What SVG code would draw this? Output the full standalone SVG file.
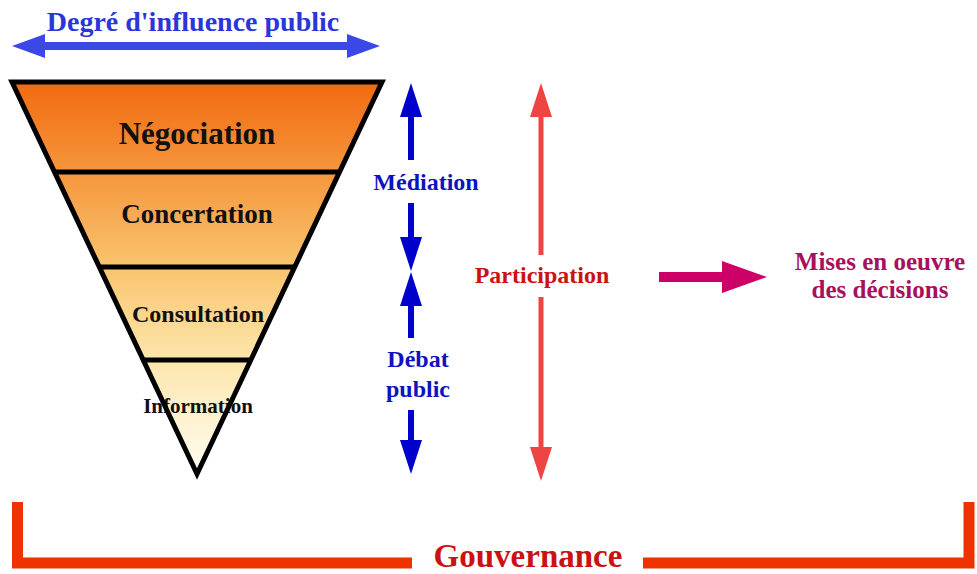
<svg xmlns="http://www.w3.org/2000/svg" width="977" height="574" viewBox="0 0 977 574">
<style>
  text { font-family: "Liberation Serif", "Times New Roman", serif; font-weight: bold; text-anchor: middle; }
  .lvl { fill: #111; }
  .blue { fill: #0e12c0; }
  .red { fill: #cc1111; }
  .mag { fill: #a8105c; }
  .band { stroke: none; }
  .edge { fill: none; stroke: #000; stroke-width: 5; stroke-linejoin: miter; }
  .bshaft { stroke: #0000cc; stroke-width: 6; fill: none; }
  .rshaft { stroke: #ee4444; stroke-width: 5; fill: none; }
  .bracket { fill: none; stroke: #ee3300; stroke-width: 11; stroke-linejoin: miter; }
</style>
<defs>
  <linearGradient id="funnel" gradientUnits="userSpaceOnUse" x1="0" y1="82" x2="0" y2="474">
    <stop offset="0" stop-color="#f26a0f"/>
    <stop offset="0.23" stop-color="#f5963c"/>
    <stop offset="0.47" stop-color="#f9c46e"/>
    <stop offset="0.71" stop-color="#fde6ac"/>
    <stop offset="1" stop-color="#fffdf2"/>
  </linearGradient>
  <marker id="headBlue" viewBox="0 0 34 22" refX="0" refY="11" markerWidth="34" markerHeight="22" markerUnits="userSpaceOnUse" orient="auto">
    <path d="M0,0 L34,11 L0,22 Z" fill="#0000cc"/>
  </marker>
  <marker id="headRed" viewBox="0 0 34 22" refX="0" refY="11" markerWidth="34" markerHeight="22" markerUnits="userSpaceOnUse" orient="auto">
    <path d="M0,0 L34,11 L0,22 Z" fill="#ee4444"/>
  </marker>
</defs>

<g id="influence-scale">
  <polygon points="12,46 45,34 45,42 347,42 347,34 380,46 347,58 347,50 45,50 45,58" fill="#3a48e8"/>
  <text x="193" y="31" font-size="28" fill="#2a36d8">Degré d'influence public</text>
</g>

<g id="funnel-pyramid">
  <g id="negociation">
    <polygon class="band" points="12,82 382,82 339.5,172 54.5,172" fill="url(#funnel)"/>
    <text class="lvl" x="197" y="144" font-size="31">Négociation</text>
  </g>
  <g id="concertation">
    <polygon class="band" points="54.5,172 339.5,172 294.7,267 99.3,267" fill="url(#funnel)"/>
    <text class="lvl" x="197" y="223" font-size="27">Concertation</text>
  </g>
  <g id="consultation">
    <polygon class="band" points="99.3,267 294.7,267 250.8,360 143.2,360" fill="url(#funnel)"/>
    <text class="lvl" x="198" y="322" font-size="24">Consultation</text>
  </g>
  <g id="information">
    <polygon class="band" points="143.2,360 250.8,360 197,474" fill="url(#funnel)"/>
    <text class="lvl" x="198" y="413" font-size="21">Information</text>
  </g>
  <polygon class="edge" points="12,82 382,82 197,474"/>
  <line class="edge" x1="54.5" y1="172" x2="339.5" y2="172"/>
  <line class="edge" x1="99.3" y1="267" x2="294.7" y2="267"/>
  <line class="edge" x1="143.2" y1="360" x2="250.8" y2="360"/>
</g>

<g id="mediation">
  <text class="blue" x="426" y="190" font-size="24">Médiation</text>
</g>
<g id="debat-public">
  <text class="blue" x="418" y="367" font-size="24">Débat</text>
  <text class="blue" x="418" y="397" font-size="24">public</text>
</g>
<g id="participation">
  <text class="red" x="542" y="283" font-size="24">Participation</text>
</g>
<g id="mises-en-oeuvre">
  <text class="mag" x="880" y="270" font-size="25">Mises en oeuvre</text>
  <text class="mag" x="880" y="298" font-size="25">des décisions</text>
</g>
<g id="gouvernance">
  <path class="bracket" d="M17.5,502 V563 H412"/>
  <path class="bracket" d="M643,563 H969 V502"/>
  <text class="red" x="528" y="567" font-size="33">Gouvernance</text>
</g>

<g id="connectors">
  <line class="bshaft" x1="411" y1="160" x2="411" y2="117" marker-end="url(#headBlue)"/>
  <line class="bshaft" x1="411" y1="203" x2="411" y2="237" marker-end="url(#headBlue)"/>
  <line class="bshaft" x1="411" y1="338" x2="411" y2="306" marker-end="url(#headBlue)"/>
  <line class="bshaft" x1="411" y1="410" x2="411" y2="440" marker-end="url(#headBlue)"/>
  <line class="rshaft" x1="541" y1="255" x2="541" y2="117" marker-end="url(#headRed)"/>
  <line class="rshaft" x1="541" y1="297" x2="541" y2="447" marker-end="url(#headRed)"/>
  <polygon points="659,272 722,272 722,261 767,277 722,293 722,282 659,282" fill="#cc0066"/>
</g>
</svg>
